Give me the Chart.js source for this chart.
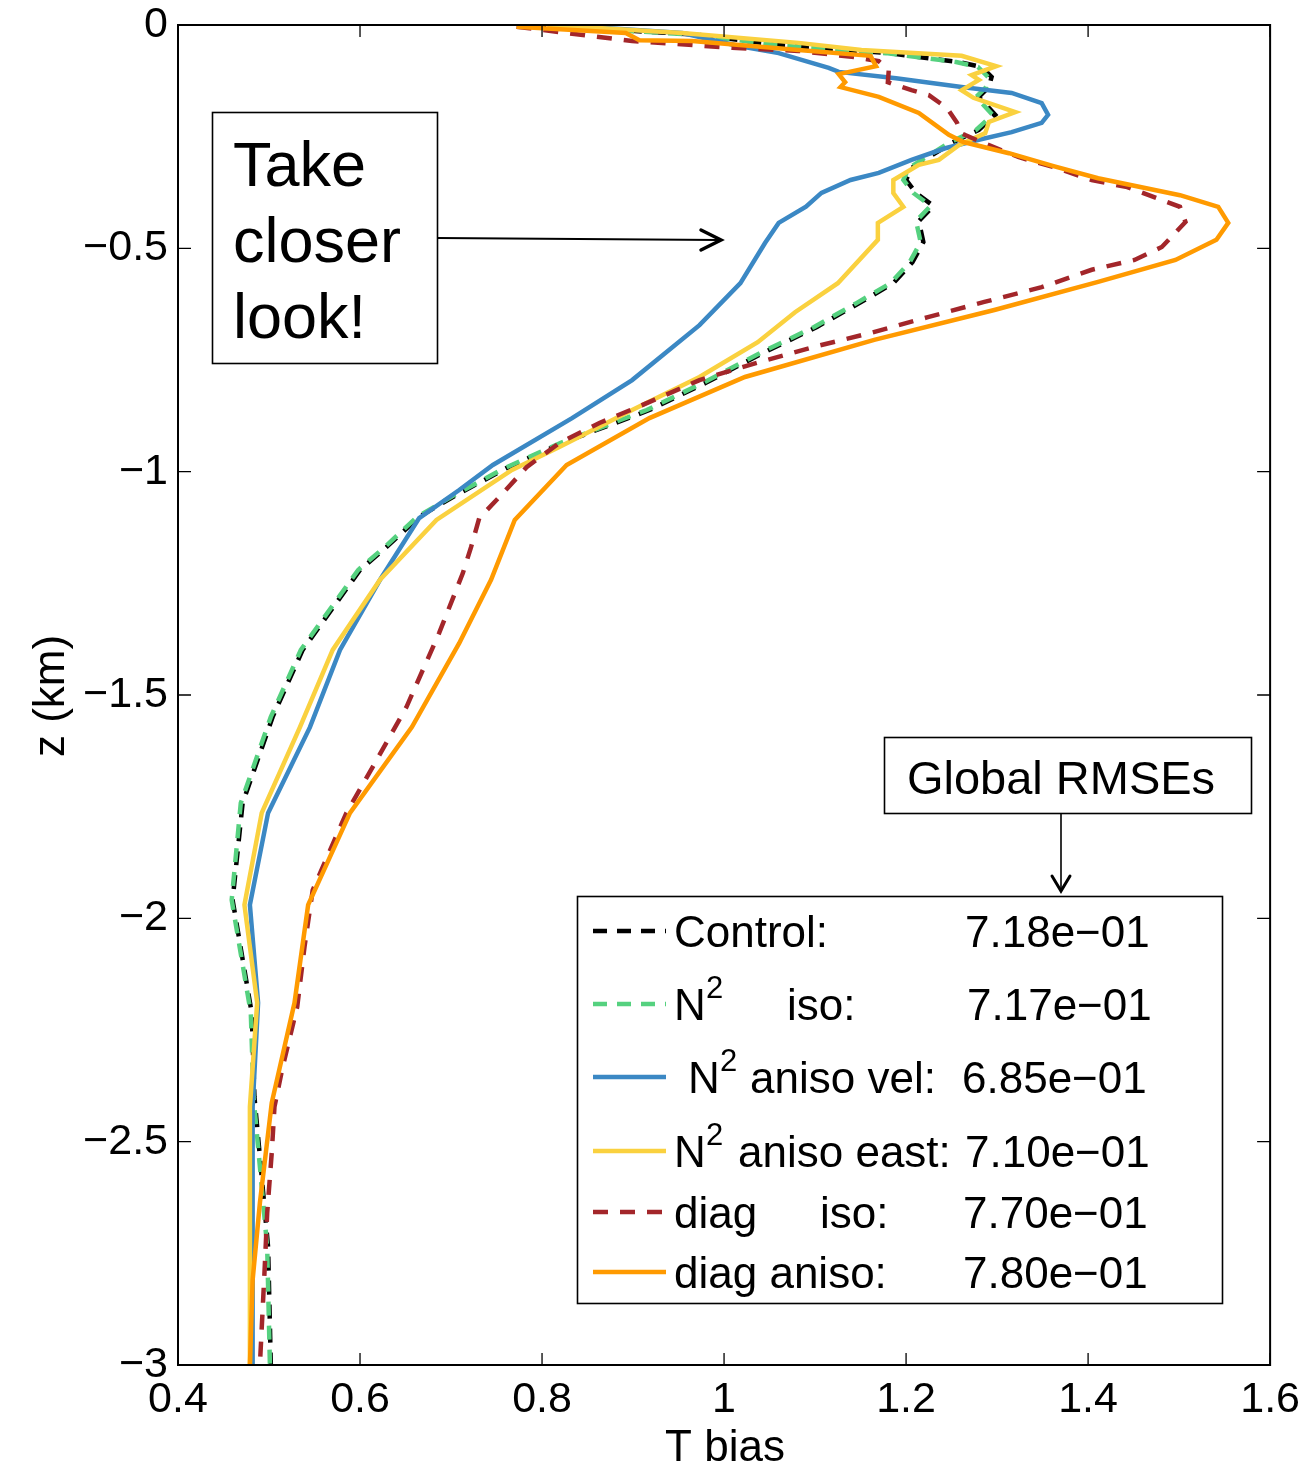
<!DOCTYPE html>
<html>
<head>
<meta charset="utf-8">
<title>T bias profiles</title>
<script src="https://cdn.jsdelivr.net/npm/chart.js@4.4.1/dist/chart.umd.min.js"></script>
<style>
  html, body { margin: 0; padding: 0; background: #fff; }
  #wrap { width: 1309px; height: 1466px; position: relative; }
</style>
</head>
<body>
<div id="wrap"><canvas id="biasChart"></canvas></div>
<script>
// Axis ticks
var xTicks = [0.4, 0.6, 0.8, 1.0, 1.2, 1.4, 1.6];
var yTicks = [0, -0.5, -1, -1.5, -2, -2.5, -3];

// Temperature bias profiles, depth in km
var controlDepth = [0, -0.022, -0.045, -0.063, -0.083, -0.094, -0.116, -0.139, -0.161, -0.201, -0.235, -0.264, -0.296, -0.320, -0.347, -0.376, -0.405, -0.439, -0.486, -0.531, -0.578, -0.622, -0.676, -0.734, -0.801, -0.862, -0.936, -0.992, -1.052, -1.101, -1.169, -1.220, -1.399, -1.549, -1.742, -1.959, -2.019, -2.212, -2.400, -2.534, -2.736, -3.0];
var controlBias = [0.789, 0.973, 1.060, 1.181, 1.258, 1.283, 1.294, 1.291, 1.280, 1.298, 1.280, 1.250, 1.225, 1.206, 1.200, 1.211, 1.230, 1.214, 1.219, 1.207, 1.186, 1.149, 1.102, 1.043, 0.980, 0.918, 0.822, 0.761, 0.706, 0.665, 0.629, 0.600, 0.537, 0.504, 0.471, 0.460, 0.465, 0.481, 0.484, 0.490, 0.499, 0.502];

var isoDepth = [0, -0.022, -0.045, -0.063, -0.083, -0.094, -0.116, -0.139, -0.161, -0.201, -0.235, -0.264, -0.296, -0.320, -0.347, -0.376, -0.405, -0.439, -0.486, -0.531, -0.578, -0.622, -0.676, -0.734, -0.801, -0.862, -0.936, -0.992, -1.052, -1.101, -1.169, -1.220, -1.399, -1.549, -1.742, -1.959, -2.019, -2.212, -2.400, -2.534, -2.736, -3.0];
var isoBias = [0.786, 0.970, 1.057, 1.178, 1.255, 1.279, 1.290, 1.288, 1.277, 1.295, 1.277, 1.247, 1.222, 1.203, 1.197, 1.208, 1.227, 1.211, 1.216, 1.204, 1.183, 1.146, 1.099, 1.040, 0.977, 0.915, 0.820, 0.759, 0.704, 0.663, 0.627, 0.598, 0.535, 0.502, 0.469, 0.459, 0.464, 0.480, 0.483, 0.489, 0.498, 0.501];

var velDepth = [0, -0.018, -0.047, -0.063, -0.096, -0.105, -0.119, -0.139, -0.152, -0.175, -0.201, -0.219, -0.240, -0.257, -0.276, -0.302, -0.331, -0.347, -0.376, -0.407, -0.443, -0.488, -0.578, -0.672, -0.795, -0.880, -0.985, -1.041, -1.104, -1.242, -1.399, -1.572, -1.764, -1.970, -2.189, -2.422, -3.0];
var velBias = [0.819, 0.954, 1.016, 1.060, 1.115, 1.126, 1.189, 1.261, 1.316, 1.349, 1.356, 1.349, 1.316, 1.280, 1.243, 1.206, 1.170, 1.139, 1.107, 1.090, 1.060, 1.045, 1.018, 0.973, 0.899, 0.833, 0.746, 0.709, 0.665, 0.622, 0.578, 0.545, 0.499, 0.479, 0.488, 0.482, 0.482];

var eastDepth = [0, -0.018, -0.040, -0.056, -0.069, -0.092, -0.112, -0.123, -0.146, -0.163, -0.195, -0.217, -0.242, -0.269, -0.302, -0.313, -0.347, -0.376, -0.407, -0.443, -0.481, -0.578, -0.643, -0.710, -0.788, -0.862, -0.945, -0.996, -1.108, -1.242, -1.399, -1.572, -1.764, -1.970, -2.189, -2.422, -3.0];
var eastBias = [0.806, 0.954, 1.082, 1.151, 1.261, 1.299, 1.272, 1.280, 1.261, 1.274, 1.320, 1.291, 1.287, 1.258, 1.236, 1.214, 1.186, 1.186, 1.197, 1.169, 1.169, 1.125, 1.078, 1.037, 0.973, 0.899, 0.819, 0.767, 0.684, 0.622, 0.570, 0.534, 0.492, 0.473, 0.487, 0.479, 0.479];

var diagIsoDepth = [-0.004, -0.036, -0.051, -0.058, -0.072, -0.081, -0.101, -0.128, -0.146, -0.157, -0.186, -0.219, -0.242, -0.264, -0.296, -0.318, -0.347, -0.363, -0.407, -0.441, -0.497, -0.526, -0.548, -0.587, -0.620, -0.654, -0.690, -0.721, -0.757, -0.795, -0.851, -0.891, -0.936, -0.990, -1.057, -1.104, -1.169, -1.227, -1.361, -1.527, -1.661, -1.764, -1.937, -2.064, -2.198, -2.333, -2.422, -2.525, -2.660, -2.794, -3.0];
var diagIsoBias = [0.772, 0.899, 1.009, 1.082, 1.144, 1.170, 1.181, 1.180, 1.206, 1.225, 1.245, 1.256, 1.260, 1.285, 1.324, 1.362, 1.404, 1.443, 1.501, 1.507, 1.481, 1.451, 1.404, 1.349, 1.286, 1.224, 1.160, 1.098, 1.035, 0.973, 0.910, 0.863, 0.819, 0.783, 0.753, 0.731, 0.722, 0.713, 0.687, 0.651, 0.614, 0.585, 0.548, 0.539, 0.531, 0.515, 0.506, 0.503, 0.498, 0.495, 0.490];

var diagAnisoDepth = [-0.004, -0.018, -0.034, -0.036, -0.056, -0.069, -0.092, -0.110, -0.128, -0.139, -0.161, -0.197, -0.246, -0.262, -0.287, -0.316, -0.343, -0.381, -0.407, -0.443, -0.481, -0.526, -0.575, -0.638, -0.705, -0.788, -0.880, -0.985, -1.108, -1.242, -1.384, -1.572, -1.764, -1.970, -2.189, -2.413, -2.637, -2.810, -3.0];
var diagAnisoBias = [0.772, 0.892, 0.907, 0.965, 1.082, 1.161, 1.167, 1.126, 1.133, 1.128, 1.170, 1.214, 1.247, 1.263, 1.313, 1.362, 1.411, 1.501, 1.543, 1.554, 1.541, 1.496, 1.411, 1.297, 1.165, 1.023, 0.918, 0.827, 0.770, 0.744, 0.709, 0.657, 0.589, 0.543, 0.528, 0.503, 0.490, 0.482, 0.479];

// Global RMSE per run, same order as the legend
var rmseValues = ['7.18e\u221201', '7.17e\u221201', '6.85e\u221201', '7.10e\u221201', '7.70e\u221201', '7.80e\u221201'];

var FONT = '"Liberation Sans", Arial, Helvetica, sans-serif';

function profile(depth, bias) {
    return depth.map(function (d, i) { return { x: bias[i], y: d }; });
}

function run(label, depth, bias, color, dash, dashOffset, order) {
    return {
        label: label,
        data: profile(depth, bias),
        borderColor: color,
        backgroundColor: color,
        borderWidth: 4.5,
        borderDash: dash,
        borderDashOffset: dashOffset,
        pointRadius: 0,
        tension: 0,
        fill: false,
        order: order
    };
}

function tickText(v) {
    return String(Math.round(v * 10) / 10).replace('-', '\u2212');
}

// Frame with inward ticks, legend and the two call-out boxes
var frameAndNotes = {
    id: 'frameAndNotes',
    afterDraw: function (chart) {
        var ctx = chart.ctx, a = chart.chartArea;
        var xs = chart.scales.x, ys = chart.scales.y;
        ctx.save();

        // ticks on all four sides
        ctx.strokeStyle = '#000';
        ctx.lineWidth = 1.3;
        ctx.beginPath();
        xTicks.forEach(function (v) {
            var px = xs.getPixelForValue(v);
            ctx.moveTo(px, a.bottom); ctx.lineTo(px, a.bottom - 12);
            ctx.moveTo(px, a.top); ctx.lineTo(px, a.top + 12);
        });
        yTicks.forEach(function (v) {
            var py = ys.getPixelForValue(v);
            ctx.moveTo(a.left, py); ctx.lineTo(a.left + 13, py);
            ctx.moveTo(a.right, py); ctx.lineTo(a.right - 13, py);
        });
        ctx.stroke();
        ctx.lineWidth = 2;
        ctx.strokeRect(a.left, a.top, a.right - a.left, a.bottom - a.top);

        // axis titles
        ctx.fillStyle = '#000';
        ctx.font = '44px ' + FONT;
        ctx.textAlign = 'center';
        ctx.textBaseline = 'alphabetic';
        ctx.fillText('T bias', 725, 1461);
        ctx.save();
        ctx.translate(64, 696);
        ctx.rotate(-Math.PI / 2);
        ctx.fillText('z (km)', 0, 0);
        ctx.restore();

        // "Take closer look!" box and arrow
        ctx.lineWidth = 1.6;
        ctx.strokeRect(212.5, 112.5, 225, 251);
        ctx.textAlign = 'left';
        ctx.font = '63px ' + FONT;
        ctx.fillText('Take', 233, 186);
        ctx.fillText('closer', 233, 262);
        ctx.fillText('look!', 233, 338);
        ctx.lineWidth = 2;
        ctx.beginPath();
        ctx.moveTo(437, 238); ctx.lineTo(720, 240);
        ctx.stroke();
        ctx.lineWidth = 3.5;
        ctx.lineCap = 'round';
        ctx.beginPath();
        ctx.moveTo(701, 230); ctx.lineTo(721, 240); ctx.lineTo(701, 250);
        ctx.stroke();

        // "Global RMSEs" box and arrow
        ctx.lineWidth = 1.6;
        ctx.lineCap = 'butt';
        ctx.strokeRect(884.5, 737.5, 367, 76);
        ctx.font = '47px ' + FONT;
        ctx.textAlign = 'center';
        ctx.fillText('Global RMSEs', 1061, 794);
        ctx.beginPath();
        ctx.moveTo(1061, 814); ctx.lineTo(1061, 890);
        ctx.stroke();
        ctx.lineWidth = 3;
        ctx.lineCap = 'round';
        ctx.beginPath();
        ctx.moveTo(1052, 876); ctx.lineTo(1061, 891); ctx.lineTo(1070, 876);
        ctx.stroke();

        // legend
        ctx.lineCap = 'butt';
        ctx.fillStyle = '#fff';
        ctx.fillRect(577, 896, 645, 407);
        ctx.lineWidth = 1.6;
        ctx.strokeRect(577.5, 896.5, 645, 407);
        var baselines = [947, 1020, 1093, 1167, 1228, 1288];
        var rows = [
            { parts: [['Control:', 674]], value: 965 },
            { parts: [['N', 674], ['iso:', 787]], sup: 706, value: 967 },
            { parts: [['N', 688], ['aniso vel:', 750]], sup: 720, value: 962 },
            { parts: [['N', 674], ['aniso east:', 738]], sup: 706, value: 965 },
            { parts: [['diag', 674], ['iso:', 820]], value: 963 },
            { parts: [['diag aniso:', 674]], value: 963 }
        ];
        chart.data.datasets.forEach(function (ds, i) {
            var b = baselines[i], row = rows[i];
            ctx.strokeStyle = ds.borderColor;
            ctx.lineWidth = 4.5;
            ctx.setLineDash(ds.borderDash || []);
            ctx.lineDashOffset = 0;
            ctx.beginPath();
            ctx.moveTo(593, b - 16); ctx.lineTo(666, b - 16);
            ctx.stroke();
            ctx.setLineDash([]);
            ctx.fillStyle = '#000';
            ctx.textAlign = 'left';
            ctx.font = '44px ' + FONT;
            row.parts.forEach(function (p) { ctx.fillText(p[0], p[1], b); });
            ctx.fillText(rmseValues[i], row.value, b);
            if (row.sup) {
                ctx.font = '31px ' + FONT;
                ctx.fillText('2', row.sup, b - 22);
            }
        });
        ctx.restore();
    }
};

var chart = new Chart(document.getElementById('biasChart'), {
    type: 'line',
    data: {
        datasets: [
            run('Control', controlDepth, controlBias, '#000000', [14, 10], 0, 6),
            run('N2 iso', isoDepth, isoBias, '#55d17f', [14, 10], 5, 5),
            run('N2 aniso vel', velDepth, velBias, '#3b88c4', [], 0, 4),
            run('N2 aniso east', eastDepth, eastBias, '#fad13f', [], 0, 3),
            run('diag iso', diagIsoDepth, diagIsoBias, '#a3262a', [15, 12], 0, 2),
            run('diag aniso', diagAnisoDepth, diagAnisoBias, '#ff9a00', [], 0, 1)
        ]
    },
    options: {
        responsive: true,
        maintainAspectRatio: false,
        animation: false,
        events: [],
        layout: { padding: { left: 0, right: 37, top: 25, bottom: 0 } },
        plugins: {
            legend: { display: false },
            tooltip: { enabled: false }
        },
        scales: {
            x: {
                type: 'linear',
                min: 0.4,
                max: 1.6,
                grid: { display: false, drawTicks: false },
                border: { display: false },
                afterBuildTicks: function (s) { s.ticks = xTicks.map(function (v) { return { value: v }; }); },
                afterFit: function (s) { s.height = 101; },
                ticks: {
                    color: '#000',
                    padding: 9,
                    maxRotation: 0,
                    font: { family: FONT, size: 43 },
                    callback: function (v) { return tickText(v); }
                }
            },
            y: {
                type: 'linear',
                min: -3,
                max: 0,
                grid: { display: false, drawTicks: false },
                border: { display: false },
                afterBuildTicks: function (s) { s.ticks = yTicks.map(function (v) { return { value: v }; }); },
                afterFit: function (s) { s.width = 178; },
                ticks: {
                    color: '#000',
                    padding: 10,
                    font: { family: FONT, size: 43, lineHeight: 0.5 },
                    callback: function (v) { return tickText(v); }
                }
            }
        }
    },
    plugins: [frameAndNotes]
});
</script>
</body>
</html>
